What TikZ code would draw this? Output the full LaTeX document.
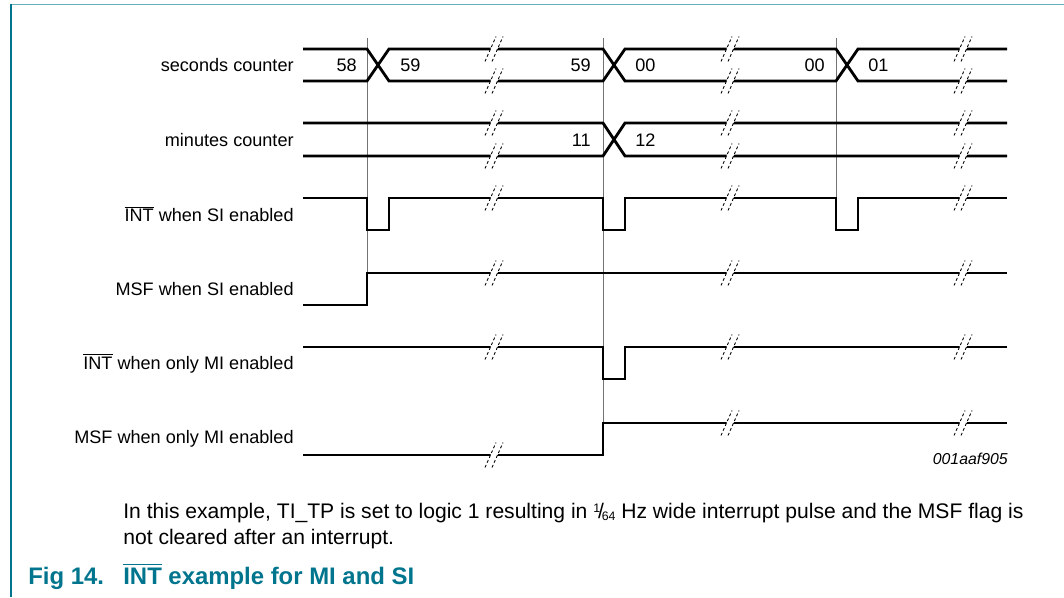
\documentclass[tikz,border=0pt]{standalone}
\usepackage{fontspec}
\setmainfont{Liberation Sans}
\usepackage{amsmath}
\usepackage{xcolor}
\definecolor{figteal}{RGB}{0,117,141}
\newcommand{\ovl}[1]{$\overline{\mbox{#1}}$}

\begin{document}
\begin{tikzpicture}[x=0.2mm, y=-0.2mm,
  sig/.style={line width=1.6pt, line join=miter},
  guide/.style={line width=0.5pt, color=black!55},
  lbl/.style={anchor=east, inner sep=0pt, font=\fontsize{10.3}{12}\selectfont},
  val/.style={inner sep=0pt, font=\fontsize{10.3}{12}\selectfont},
  note/.style={anchor=base west, inner sep=0pt, font=\fontsize{12}{14}\selectfont},
  figcap/.style={anchor=base west, inner sep=0pt, text=figteal, font=\bfseries\fontsize{13.6}{16}\selectfont},
  brk/.pic={
    \fill[white] (-4.8,3)--(2.2,3)--(4.8,-3)--(-2.2,-3)--cycle;
    \draw[line width=0.5pt, dash pattern=on 1.6pt off 1.4pt] (-9,12.5)--(2,-12.5);
    \draw[line width=0.5pt, dash pattern=on 1.6pt off 1.4pt] (-2,12.5)--(9,-12.5);
  }]
\useasboundingbox (0,0) rectangle (1064,597);
%%%%% Frame %%%%%
\draw[figteal!60, line width=0.5pt] (11,4)--(1064,4);
\draw[figteal, line width=0.8pt] (11,4)--(11,597);
%%%%% Guides %%%%%
\draw[guide] (367,38)--(367,273);
\draw[guide] (603,38)--(603,423);
\draw[guide] (836,38)--(836,198);
%%%%% Labels %%%%%
\node[lbl] (lsec) at (294,65) {seconds counter};
\node[lbl] (lmin) at (294,140) {minutes counter};
\node[lbl] (lintsi) at (294,214) {\ovl{INT} when SI enabled};
\node[lbl] (lmsfsi) at (294,289) {MSF when SI enabled};
\node[lbl] (lintmi) at (294,363) {\ovl{INT} when only MI enabled};
\node[lbl] (lmsfmi) at (294,439) {MSF when only MI enabled};
%%%%% Signals %%%%%
\draw[sig] (303,49)--(367,49)--(389,81)--(603,81)--(625,49)--(836,49)--(858,81)--(1007,81);
\draw[sig] (303,81)--(367,81)--(389,49)--(603,49)--(625,81)--(836,81)--(858,49)--(1007,49);
\draw[sig] (303,123)--(603,123)--(625,156)--(1007,156);
\draw[sig] (303,156)--(603,156)--(625,123)--(1007,123);
\draw[sig] (303,198)--(367,198)--(367,230)--(389,230)--(389,198)--(603,198)--(603,230)--(625,230)--(625,198)--(836,198)--(836,230)--(858,230)--(858,198)--(1007,198);
\draw[sig] (303,305)--(367,305)--(367,273)--(1007,273);
\draw[sig] (303,347)--(603,347)--(603,379)--(625,379)--(625,347)--(1007,347);
\draw[sig] (303,455)--(603,455)--(603,423)--(1007,423);
%%%%% Values %%%%%
\node[val, anchor=east] (v58) at (357,65) {58};
\node[val, anchor=west] (v59a) at (400,65) {59};
\node[val, anchor=east] (v59b) at (591,65) {59};
\node[val, anchor=west] (v00a) at (635,65) {00};
\node[val, anchor=east] (v00b) at (825,65) {00};
\node[val, anchor=west] (v01) at (868,65) {01};
\node[val, anchor=east] (v11) at (591,140) {11};
\node[val, anchor=west] (v12) at (635,140) {12};
%%%%% Breaks %%%%%
\foreach \x in {494,730,963}{
\foreach \y in {49,81,123,156,198,273,347}{
\pic at (\x,\y) {brk};
}
}
\pic at (494,455) {brk};
\pic at (730,423) {brk};
\pic at (963,423) {brk};
\node[anchor=east, inner sep=0pt, font=\itshape\fontsize{9}{11}\selectfont] (code) at (1008,459) {001aaf905};
%%%%% Caption %%%%%
\node[note] (note1) at (123,518)
  {In this example, TI\_TP is set to logic 1 resulting in {\raisebox{.45ex}{\scriptsize 1}\kern-.1em/\kern-.1em\raisebox{-.25ex}{\scriptsize 64}} Hz wide interrupt pulse and the MSF flag is};
\node[note] (note2) at (123,544) {not cleared after an interrupt.};
\node[figcap] (fignum) at (28,584) {Fig 14.};
\node[figcap] (figtitle) at (123,584) {\ovl{INT} example for MI and SI};
\end{tikzpicture}
\end{document}
